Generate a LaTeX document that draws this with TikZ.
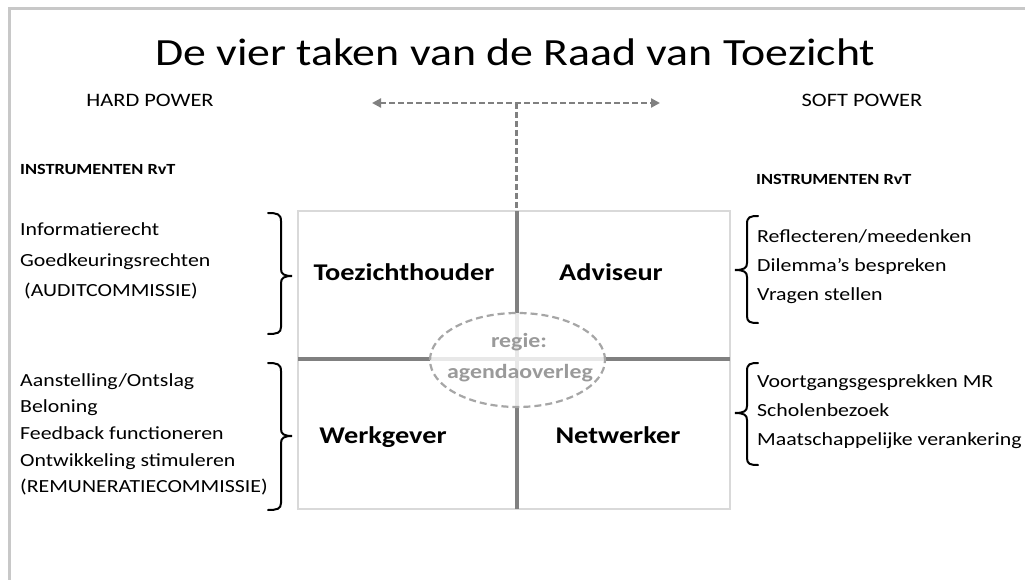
\documentclass[tikz,border=0pt]{standalone}
\usepackage{fontspec}
\setmainfont{Carlito}
\newfontfamily\titlefont[FakeStretch=1.19]{Carlito}
\newfontfamily\lblfont[FakeStretch=1.18]{Carlito}
\usetikzlibrary{arrows.meta,shapes.geometric}
\definecolor{framegray}{HTML}{C8C8C8}
\definecolor{boxgray}{HTML}{D9D9D9}
\definecolor{axisgray}{HTML}{808080}
\definecolor{ellgray}{HTML}{A6A6A6}
\definecolor{regiegray}{HTML}{9A9A9A}
\tikzset{
  item/.style={anchor=base west, inner sep=0pt, font=\lblfont\fontsize{18.5}{22}\selectfont},
  head/.style={anchor=base west, inner sep=0pt, font=\lblfont\bfseries\fontsize{15.5}{18}\selectfont},
  power/.style={anchor=base, inner sep=0pt, font=\lblfont\fontsize{19}{22}\selectfont},
  quad/.style={anchor=base, inner sep=0pt, font=\lblfont\bfseries\fontsize{24}{28}\selectfont},
  regietxt/.style={anchor=base, inner sep=0pt, text=regiegray, font=\lblfont\bfseries\fontsize{20.2}{24}\selectfont},
  powerarrow/.style={draw=axisgray, line width=2.2pt, dash pattern=on 6pt off 3pt, {Triangle[length=9pt,width=9pt]}-{Triangle[length=9pt,width=9pt]}},
  powerstem/.style={draw=axisgray, line width=2.2pt, dash pattern=on 6pt off 3pt},
  axis/.style={draw=axisgray, line width=4pt},
  bracestyle/.style={draw=black, line width=2pt, line cap=round},
}
\begin{document}
\begin{tikzpicture}[x=1pt,y=-1pt]
\useasboundingbox (0,0) rectangle (1025,580);
% frame
\draw[framegray, line width=3pt] (9,580) -- (9,9) -- (1025,9);
% title
\node[anchor=base, inner sep=0pt, font=\titlefont\fontsize{38.5}{44}\selectfont] (title) at (515,66) {De vier taken van de Raad van Toezicht};
% power labels and arrow
\node[power] (hard) at (150,107) {HARD POWER};
\node[power] (soft) at (862,107) {SOFT POWER};
\coordinate (al) at (372,103);
\coordinate (ar) at (660,103);
\coordinate (aj) at (516.5,103);
\coordinate (gtop) at (516.5,211);
\draw[powerarrow] (al) -- (ar);
\draw[powerstem] (aj) -- (gtop);
% instrumenten headings
\node[head] (insl) at (20,175) {INSTRUMENTEN RvT};
\node[head] (insr) at (756,185) {INSTRUMENTEN RvT};
% grid
\draw[boxgray, line width=2pt] (298,211) rectangle (730,509);
\coordinate (gbot) at (516.5,509);
\coordinate (gl) at (298,359);
\coordinate (gr) at (730,359);
\draw[axis] (gtop) -- (gbot);
\draw[axis] (gl) -- (gr);
% ellipse
\node[ellipse, draw=ellgray, line width=2.2pt, dash pattern=on 7pt off 4pt, fill=white, fill opacity=0.82, text opacity=1, minimum width=175pt, minimum height=94pt, inner sep=0pt] (regie) at (517.5,360) {};
\node[regietxt] (regie1) at (519,347) {regie:};
\node[regietxt] (regie2) at (520,378) {agendaoverleg};
% quadrant labels
\node[quad] (tz) at (404,280) {Toezichthouder};
\node[quad] (adv) at (611,280) {Adviseur};
\node[quad] (wg) at (383,443) {Werkgever};
\node[quad] (nw) at (618,443) {Netwerker};
% left lists
\foreach \t [count=\i] in {Informatierecht, Goedkeuringsrechten, {\hspace{4pt}(AUDITCOMMISSIE)}}
  \node[item] (lt\i) at (20,{236+30*(\i-1)}) {\t};
\foreach \t [count=\i] in {Aanstelling/Ontslag, Beloning, Feedback functioneren, Ontwikkeling stimuleren, (REMUNERATIECOMMISSIE)}
  \node[item] (lb\i) at (20,{386+26.7*(\i-1)}) {\t};
% right lists
\foreach \t [count=\i] in {Reflecteren/meedenken, Dilemma’s bespreken, Vragen stellen}
  \node[item] (rt\i) at (757,{242+29*(\i-1)}) {\t};
\foreach \t [count=\i] in {Voortgangsgesprekken MR, Scholenbezoek, Maatschappelijke verankering}
  \node[item] (rb\i) at (757,{387+29*(\i-1)}) {\t};
% braces
\draw[bracestyle] (268,213) .. controls (277,213) and (281,214) .. (281,221) -- (281,269) .. controls (281,274) and (284,276) .. (292,276) .. controls (284,276) and (281,278) .. (281,283) -- (281,327) .. controls (281,333) and (277,334) .. (268,334);
\draw[bracestyle] (268,363) .. controls (277,363) and (281,364) .. (281,371) -- (281,429) .. controls (281,434) and (284,436) .. (292,436) .. controls (284,436) and (281,438) .. (281,443) -- (281,503) .. controls (281,509) and (277,510) .. (268,510);
\draw[bracestyle] (758,216) .. controls (750,216) and (747,217) .. (747,224) -- (747,263) .. controls (747,268) and (744,270) .. (735,270) .. controls (744,270) and (747,272) .. (747,277) -- (747,316) .. controls (747,322) and (750,323) .. (758,323);
\draw[bracestyle] (758,363) .. controls (750,363) and (747,364) .. (747,371) -- (747,406) .. controls (747,411) and (744,413) .. (735,413) .. controls (744,413) and (747,415) .. (747,420) -- (747,458) .. controls (747,464) and (750,465) .. (758,465);
\end{tikzpicture}
\end{document}
